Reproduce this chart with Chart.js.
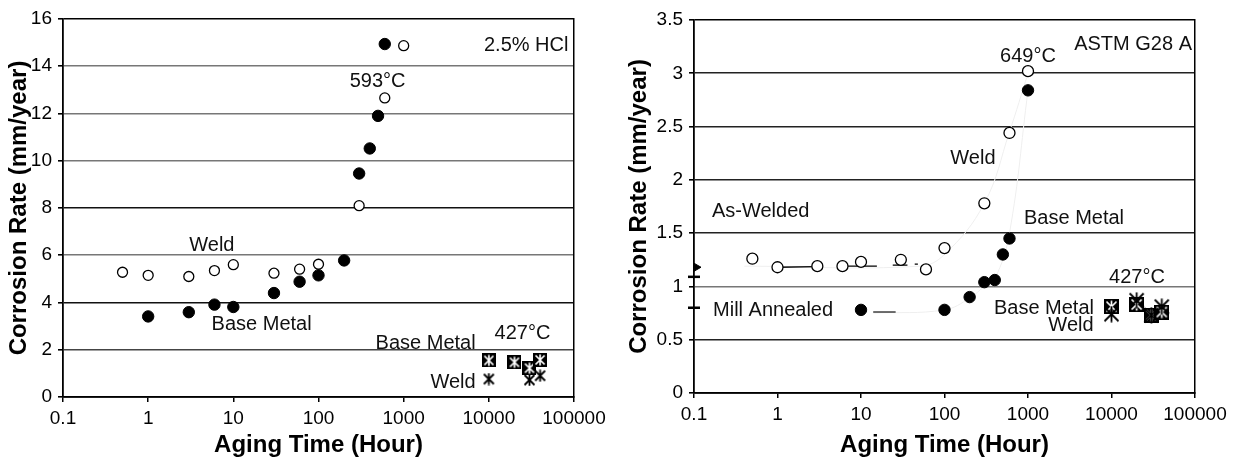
<!DOCTYPE html>
<html>
<head>
<meta charset="utf-8">
<script src="https://cdn.jsdelivr.net/npm/chart.js@4/dist/chart.umd.min.js"></script>
<style>
  body { margin: 0; background: #fff; }
  .box { position: absolute; top: 0; height: 461px; }
</style>
</head>
<body>
<div class="box" style="left:0;width:620px"><canvas id="hcl" width="620" height="461"></canvas></div>
<div class="box" style="left:620px;width:613px"><canvas id="g28" width="613" height="461"></canvas></div>
<script>
// Ticks shared by both plots
const xTicks = [0.1, 1, 10, 100, 1000, 10000, 100000];
const hclYTicks = [0, 2, 4, 6, 8, 10, 12, 14, 16];
const g28YTicks = [0, 0.5, 1, 1.5, 2, 2.5, 3, 3.5];

// Left: 2.5% HCl, aged at 593C
const hclWeldTime = [0.5, 1, 3, 6, 10, 30, 60, 100, 300, 600, 1000];
const hclWeldRate = [5.28, 5.15, 5.1, 5.35, 5.6, 5.24, 5.41, 5.62, 8.1, 12.66, 14.87];
const hclBaseTime = [1, 3, 6, 10, 30, 60, 100, 200, 300, 400, 500, 600];
const hclBaseRate = [3.41, 3.59, 3.91, 3.81, 4.4, 4.88, 5.15, 5.78, 9.46, 10.52, 11.9, 14.94];
// 427C aging
const hclBase427Time = [10000, 20000, 30000, 40000];
const hclBase427Rate = [1.55, 1.47, 1.22, 1.57];
const hclWeld427Time = [10000, 30000, 40000];
const hclWeld427Rate = [0.76, 0.72, 0.9];

// Right: ASTM G28 A, aged at 649C
const g28WeldTime = [0.5, 1, 3, 6, 10, 30, 60, 100, 300, 600, 1000];
const g28WeldRate = [1.26, 1.18, 1.19, 1.19, 1.23, 1.25, 1.16, 1.36, 1.78, 2.44, 3.02];
const g28BaseTime = [10, 100, 200, 300, 400, 500, 600, 1000];
const g28BaseRate = [0.78, 0.78, 0.9, 1.04, 1.06, 1.3, 1.45, 2.84];
const g28Base427Time = [10000, 20000, 30000, 40000];
const g28Base427Rate = [0.81, 0.83, 0.73, 0.76];
const g28Weld427Time = [10000, 20000, 30000, 40000];
const g28Weld427Rate = [0.74, 0.87, 0.73, 0.81];
// As-welded / mill annealed marks at the axis
const asWeldedRate = [1.18];
const axisMarkRate = [1.09, 0.8];
// short leftover trend-line pieces in the scan
const weldSegTime = [1, 3, null, 7, 15.5, null, 24, 36, null, 44, 48];
const weldSegRate = [1.18, 1.185, null, 1.19, 1.19, null, 1.2, 1.2, null, 1.21, 1.21];
const millSegTime = [14, 26];
const millSegRate = [0.76, 0.76];
// faint trend curves
const weldTrendTime = [0.4, 50, 100, 300, 600, 1000];
const weldTrendRate = [1.19, 1.19, 1.3, 1.78, 2.45, 3.0];
const baseTrendTime = [14, 100, 200, 300, 400, 600, 1000];
const baseTrendRate = [0.75, 0.78, 0.89, 1.0, 1.07, 1.5, 2.84];

const hclNotes = [
  {text: '2.5% HCl', x: 86000, y: 14.9, align: 'right'},
  {text: '593°C', x: 494, y: 13.35, align: 'center'},
  {text: 'Weld', x: 5.6, y: 6.4, align: 'center'},
  {text: 'Base Metal', x: 21.5, y: 3.06, align: 'center'},
  {text: '427°C', x: 24800, y: 2.68, align: 'center'},
  {text: 'Base Metal', x: 7000, y: 2.26, align: 'right'},
  {text: 'Weld', x: 7000, y: 0.6, align: 'right'}
];
const g28Notes = [
  {text: 'ASTM G28 A', x: 92000, y: 3.27, align: 'right'},
  {text: '649°C', x: 1000, y: 3.155, align: 'center'},
  {text: 'Weld', x: 219, y: 2.196, align: 'center'},
  {text: 'As-Welded', x: 0.164, y: 1.70, align: 'left'},
  {text: 'Base Metal', x: 896, y: 1.64, align: 'left'},
  {text: '427°C', x: 20200, y: 1.087, align: 'center'},
  {text: 'Base Metal', x: 6170, y: 0.796, align: 'right'},
  {text: 'Weld', x: 6100, y: 0.636, align: 'right'},
  {text: 'Mill Annealed', x: 0.169, y: 0.777, align: 'left'}
];

const FONT = '"Liberation Sans", Arial, sans-serif';

function pts(xs, ys) {
  return xs.map((x, i) => (x === null ? {x: null, y: null} : {x: x, y: ys[i]}));
}

// black box with white asterisk
function boxStar(s) {
  const c = document.createElement('canvas');
  c.width = c.height = s;
  const g = c.getContext('2d');
  g.fillStyle = '#000';
  g.fillRect(0, 0, s, s);
  g.strokeStyle = '#fff';
  g.lineWidth = 1.7;
  g.beginPath();
  g.moveTo(2.5, 2.5); g.lineTo(s - 2.5, s - 2.5);
  g.moveTo(s - 2.5, 2.5); g.lineTo(2.5, s - 2.5);
  g.moveTo(s / 2, 1.5); g.lineTo(s / 2, s - 1.5);
  g.stroke();
  return c;
}
// plain asterisk
function star(s) {
  const c = document.createElement('canvas');
  c.width = c.height = s;
  const g = c.getContext('2d');
  g.strokeStyle = '#000';
  g.lineWidth = 1.8;
  g.beginPath();
  g.moveTo(1.5, 1.5); g.lineTo(s - 1.5, s - 1.5);
  g.moveTo(s - 1.5, 1.5); g.lineTo(1.5, s - 1.5);
  g.moveTo(s / 2, 0.5); g.lineTo(s / 2, s - 0.5);
  g.stroke();
  return c;
}

const notesPlugin = {
  id: 'notes',
  afterDatasetsDraw(chart, args, opts) {
    const {ctx, scales} = chart;
    ctx.save();
    ctx.font = '20px ' + FONT;
    ctx.fillStyle = '#111';
    ctx.textBaseline = 'middle';
    opts.items.forEach(n => {
      ctx.textAlign = n.align;
      ctx.fillText(n.text, scales.x.getPixelForValue(n.x), scales.y.getPixelForValue(n.y));
    });
    ctx.restore();
  }
};

function makeChart(id, cfg) {
  return new Chart(document.getElementById(id), {
    type: 'scatter',
    data: {datasets: cfg.datasets},
    plugins: [notesPlugin],
    options: {
      responsive: false,
      animation: false,
      events: [],
      layout: {padding: {left: 0, top: cfg.top, right: cfg.right, bottom: 0}},
      plugins: {legend: {display: false}, tooltip: {enabled: false}, notes: {items: cfg.notes}},
      scales: {
        x: {
          type: 'logarithmic',
          min: 0.1, max: 100000,
          afterBuildTicks: s => { s.ticks = xTicks.map(v => ({value: v})); },
          afterFit: s => { s.height = cfg.xHeight; },
          ticks: {color: '#000', font: {family: FONT, size: 19}, padding: 5, maxRotation: 0, autoSkip: false,
                  callback: v => String(v)},
          grid: {drawOnChartArea: false, tickLength: 5, tickColor: '#000', lineWidth: 1.5},
          border: {color: '#000', width: 1.8},
          title: {display: true, text: 'Aging Time (Hour)', color: '#000',
                  font: {family: FONT, size: 24, weight: 'bold'}, padding: {top: 0, bottom: 1}}
        },
        y: {
          min: cfg.yTicks[0], max: cfg.yTicks[cfg.yTicks.length - 1],
          afterBuildTicks: s => { s.ticks = cfg.yTicks.map(v => ({value: v})); },
          afterFit: s => { s.width = cfg.yWidth; },
          ticks: {color: '#000', font: {family: FONT, size: 19}, padding: 6, callback: v => String(v)},
          grid: {color: c => cfg.gridColor(c.tick ? c.tick.value : 0), lineWidth: 1.6,
                 tickLength: 5, tickColor: '#000'},
          border: {color: '#000', width: 1.8},
          title: {display: true, text: 'Corrosion Rate (mm/year)', color: '#000',
                  font: {family: FONT, size: 24, weight: 'bold'}, padding: {top: 5, bottom: 0}}
        },
        yR: {
          position: 'right',
          min: cfg.yTicks[0], max: cfg.yTicks[cfg.yTicks.length - 1],
          afterFit: s => { s.width = 0; },
          ticks: {display: false},
          grid: {display: false},
          border: {color: '#000', width: 1.5}
        }
      }
    }
  });
}

const openCircle = {pointStyle: 'circle', pointBackgroundColor: '#fff', pointBorderColor: '#000', pointBorderWidth: 1.3};
const fullCircle = {pointStyle: 'circle', pointBackgroundColor: '#000', pointBorderColor: '#000', pointBorderWidth: 1};

makeChart('hcl', {
  top: 19, right: 46, yWidth: 63, xHeight: 64,
  yTicks: hclYTicks,
  gridColor: v => ({0: '#000', 2: '#444', 4: '#111', 6: '#777', 8: '#111', 10: '#777', 12: '#777', 14: '#777', 16: '#000'}[v] || '#555'),
  notes: hclNotes,
  datasets: [
    Object.assign({data: pts(hclWeldTime, hclWeldRate), pointRadius: 5}, openCircle),
    Object.assign({data: pts(hclBaseTime, hclBaseRate), pointRadius: 5.7}, fullCircle),
    {data: pts(hclBase427Time, hclBase427Rate), pointStyle: boxStar(14)},
    {data: pts(hclWeld427Time, hclWeld427Rate), pointStyle: star(13)}
  ]
});

makeChart('g28', {
  top: 20, right: 38, yWidth: 74, xHeight: 68,
  yTicks: g28YTicks,
  gridColor: v => ({0: '#000', 1: '#777', 3.5: '#000'}[v] || '#222'),
  notes: g28Notes,
  datasets: [
    {data: pts(axisMarkRate.map(() => 0.1), axisMarkRate), pointStyle: 'line', pointRadius: 6,
     pointBorderColor: '#000', pointBorderWidth: 2.5, clip: false},
    {data: pts(asWeldedRate.map(() => 0.1), asWeldedRate), pointStyle: 'triangle', rotation: 90, pointRadius: 7,
     pointBackgroundColor: '#000', pointBorderColor: '#000', clip: 0},
    {data: pts(g28Weld427Time, g28Weld427Rate), pointStyle: star(17)},
    {data: pts(g28Base427Time, g28Base427Rate), pointStyle: boxStar(15)},
    Object.assign({data: pts(g28WeldTime, g28WeldRate), pointRadius: 5.5}, openCircle),
    Object.assign({data: pts(g28BaseTime, g28BaseRate), pointRadius: 5.7}, fullCircle),
    {data: pts(weldSegTime, weldSegRate), showLine: true, spanGaps: false, pointRadius: 0,
     borderColor: '#000', borderWidth: 1.3},
    {data: pts(millSegTime, millSegRate), showLine: true, pointRadius: 0, borderColor: '#222', borderWidth: 1.3},
    {data: pts(weldTrendTime, weldTrendRate), showLine: true, pointRadius: 0, borderColor: '#efefef',
     borderWidth: 1, tension: 0.4},
    {data: pts(baseTrendTime, baseTrendRate), showLine: true, pointRadius: 0, borderColor: '#efefef',
     borderWidth: 1, tension: 0.4}
  ]
});
</script>
</body>
</html>
